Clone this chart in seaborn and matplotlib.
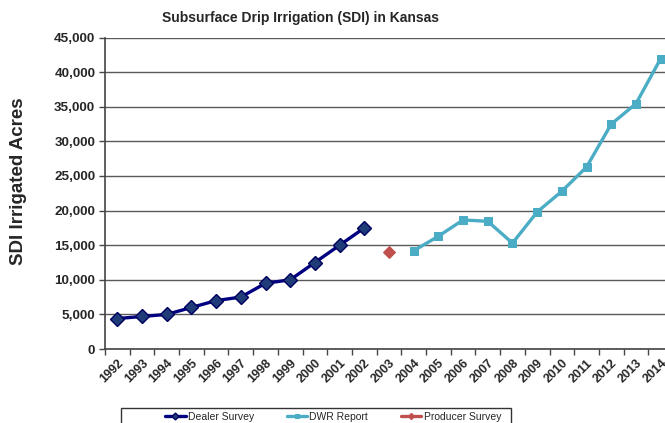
import matplotlib
matplotlib.use("Agg")
import matplotlib.pyplot as plt
import pandas as pd
import seaborn as sns
from matplotlib.patches import Rectangle
from matplotlib.ticker import FuncFormatter, FixedLocator

years_dealer = [1992, 1993, 1994, 1995, 1996, 1997, 1998, 1999, 2000, 2001, 2002]
acres_dealer = [4400, 4700, 5000, 6000, 7000, 7500, 9500, 10000, 12500, 15000, 17500]

years_dwr = [2004, 2005, 2006, 2007, 2008, 2009, 2010, 2011, 2012, 2013, 2014]
acres_dwr = [14200, 16300, 18650, 18450, 15300, 19800, 22800, 26300, 32500, 35450, 41950]

years_producer = [2003]
acres_producer = [14000]

all_years = list(range(1992, 2015))
y_ticks = list(range(0, 45001, 5000))

sns.set_theme(style="white")
plt.rcParams["font.family"] = ["Liberation Sans", "DejaVu Sans"]

fig = plt.figure(figsize=(6.65, 4.23), dpi=100)
ax = fig.add_axes([105 / 665, 74 / 423, 568 / 665, 311.4 / 423])

dealer = pd.DataFrame({"Year": years_dealer, "Acres": acres_dealer})
dwr = pd.DataFrame({"Year": years_dwr, "Acres": acres_dwr})
producer = pd.DataFrame({"Year": years_producer, "Acres": acres_producer})

sns.lineplot(data=dealer, x="Year", y="Acres", ax=ax, color="#000080", lw=2.4,
             marker="D", markersize=7, markerfacecolor="#1f3c78",
             markeredgecolor="#000060", markeredgewidth=1, label="Dealer Survey")
sns.lineplot(data=dwr, x="Year", y="Acres", ax=ax, color="#4bacc6", lw=2.4,
             marker="s", markersize=6, markerfacecolor="#4bacc6",
             markeredgecolor="#4bacc6", label="DWR Report")
sns.lineplot(data=producer, x="Year", y="Acres", ax=ax, color="#c0504d", lw=2.4,
             marker="D", markersize=6.5, markerfacecolor="#c0504d",
             markeredgecolor="#c0504d", label="Producer Survey")

ax.set_xlim(1991.5, 2014.5)
ax.set_ylim(0, 45000)
ax.set_yticks(y_ticks)
ax.yaxis.set_major_formatter(FuncFormatter(lambda v, p: f"{int(v):,}"))
ax.grid(axis="y", color="#5a5a5a", lw=1)
ax.set_axisbelow(True)

ax.set_xticks(all_years)
ax.set_xticklabels([str(y) for y in all_years], rotation=45, ha="right",
                   rotation_mode="anchor", fontweight="bold", fontsize=9)
ax.xaxis.set_minor_locator(FixedLocator([y + 0.5 for y in range(1991, 2015)]))
ax.tick_params(axis="x", which="major", length=0, pad=6)
ax.tick_params(axis="x", which="minor", length=4, width=1, color="#444444",
               direction="out", bottom=True)
ax.tick_params(axis="y", length=4, width=1, color="#444444", direction="out",
               left=True, labelsize=9.7, pad=3)
for lab in ax.get_yticklabels():
    lab.set_fontweight("bold")

for side in ["top", "right"]:
    ax.spines[side].set_visible(False)
for side in ["left", "bottom"]:
    ax.spines[side].set_color("#444444")
    ax.spines[side].set_linewidth(1.2)

ax.set_xlabel("")
ax.set_ylabel("")
fig.text(19 / 665, 1 - 181 / 423, "SDI Irrigated Acres", rotation=90,
         ha="center", va="center", fontsize=13.5, fontweight="bold")
fig.text(300 / 665, 1 - 18 / 423, "Subsurface Drip Irrigation (SDI) in Kansas",
         ha="center", va="center", fontsize=10, fontweight="bold")

# legend box (extends past the bottom edge, as in the source image)
fig.patches.append(Rectangle((121 / 665, -0.05), 390 / 665, 0.05 + 1 - 408 / 423,
                             transform=fig.transFigure, fill=False,
                             edgecolor="#333333", lw=1))

handles, labels = ax.get_legend_handles_labels()
ax.legend_.remove()
fig.legend(handles, labels, loc="center",
           bbox_to_anchor=(165 / 665, 1 - 417 / 423, 336 / 665, 0),
           mode="expand", ncol=3, fontsize=7.5, frameon=False,
           handlelength=2.0, borderaxespad=0, borderpad=0,
           columnspacing=1.0, handletextpad=0.2, markerscale=0.5)

fig.savefig("out.png", dpi=100)
